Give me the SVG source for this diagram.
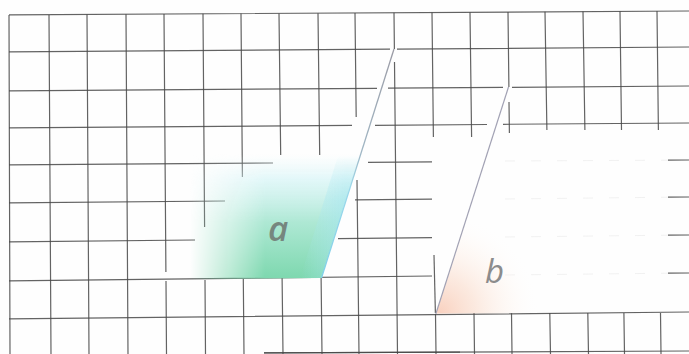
<svg xmlns="http://www.w3.org/2000/svg" width="689" height="354" viewBox="0 0 689 354">
<style>
.grid{stroke:#484848;stroke-width:1.2;fill:none;opacity:.85}
.faint{stroke:#aaa;stroke-width:1;fill:none;opacity:.15;stroke-dasharray:10 16}
.lbl{font-family:"Open Sans","Liberation Sans",sans-serif;font-style:italic}
</style>
<defs>
<linearGradient id="gA" gradientUnits="userSpaceOnUse" x1="0" y1="154" x2="0" y2="278">
<stop offset="0" stop-color="#e6f9fb" stop-opacity="0"/>
<stop offset="0.2" stop-color="#d6f4f6" stop-opacity="0.7"/>
<stop offset="0.55" stop-color="#aee8d4"/>
<stop offset="1" stop-color="#7ed8af"/>
</linearGradient>
<linearGradient id="gAc" gradientUnits="userSpaceOnUse" x1="300" y1="0" x2="345" y2="0">
<stop offset="0" stop-color="#a8e8f0" stop-opacity="0"/>
<stop offset="1" stop-color="#a6e6f0" stop-opacity="0.65"/>
</linearGradient>
<linearGradient id="gAh" gradientUnits="userSpaceOnUse" x1="190" y1="0" x2="265" y2="0">
<stop offset="0" stop-color="#000"/>
<stop offset="1" stop-color="#fff"/>
</linearGradient>
<linearGradient id="gAv" gradientUnits="userSpaceOnUse" x1="0" y1="156" x2="0" y2="200">
<stop offset="0" stop-color="#000"/>
<stop offset="1" stop-color="#fff"/>
</linearGradient>
<mask id="mA" maskUnits="userSpaceOnUse" x="0" y="0" width="689" height="354">
<rect x="140" y="140" width="240" height="150" fill="url(#gAh)"/>
</mask>
<mask id="mAv" maskUnits="userSpaceOnUse" x="0" y="0" width="689" height="354">
<rect x="140" y="140" width="240" height="150" fill="url(#gAv)"/>
</mask>
<radialGradient id="gB" gradientUnits="userSpaceOnUse" cx="440" cy="312" r="100">
<stop offset="0" stop-color="#f7bfa6" stop-opacity="0.7"/>
<stop offset="0.35" stop-color="#f9d4c0" stop-opacity="0.5"/>
<stop offset="0.7" stop-color="#fdeee4" stop-opacity="0.28"/>
<stop offset="1" stop-color="#ffffff" stop-opacity="0"/>
</radialGradient>
<linearGradient id="lA" gradientUnits="userSpaceOnUse" x1="394" y1="49" x2="322" y2="278">
<stop offset="0" stop-color="#9a9aa4"/>
<stop offset="0.45" stop-color="#a0b6c4"/>
<stop offset="0.6" stop-color="#9cd8ea"/>
<stop offset="1" stop-color="#80d0ea"/>
</linearGradient>
</defs>
<rect width="689" height="354" fill="#fefefe"/>
<g id="grid">
<path class="grid" d="M9 14.9L689 11
M9 51.9L390 49.2M397 49.1L689 47
M9 90.9L377 88.3M388 88.2L503 87.4M512 87.3L689 86
M9 127.9L352 125.4M375 125.3L487 124.5M503 124.3L689 123
M9 164.9L273 163M368 162.3L432 161.9M668 160.2L689 160
M9 202.9L225 201M355 199.9L432 199.2M668 197.2L689 197
M9 241.9L195 240M338 238.6L432 237.6M668 235.2L689 235
M9 280.9L432 276M668 273.2L689 273
M9 318.9L689 312
M264 352.9L689 351"/>
<path class="grid" d="M9 15L10 354
M49 14.9L51 354
M87 14.5L89 354
M126 14.3L128 354
M164 14L165.9 272M166 281L166.5 354
M203 13.8L204.6 227M205 280L205.5 354
M241 13.6L242.4 177M243.3 279L244 354
M279 13.4L280.7 155M282.1 278L283 354
M318 13.2L319.7 155M321.1 278L322 354
M355 12.9L356.2 117M357 180L359 354
M394 12.7L394.4 49M394.5 62L397.5 354
M432 12.5L433.4 137M435.5 314L436 354
M470 12.3L471.6 137M474 313L474.5 354
M508 12L508.9 87M509 102L509.4 133M511.5 313L512 354
M545 11.8L546.9 130M549.8 313L550.5 354
M583 11.6L584.9 130M587.8 313L588.5 354
M620 11.3L621.5 130M623.9 313L624.5 354
M657 11.1L658.4 130M660.5 313L661 354"/>
<path class="grid" d="M434 255L435.4 313" opacity="0.3"/>
<path class="grid" d="M264 352.9L460 352.2" stroke-width="1.6"/>
<path class="faint" d="M505 161L668 160.2M505 199L668 197.2M505 237L668 235.2M505 275L668 273.2"/>
</g>
<g id="node-a">
<g mask="url(#mA)">
<polygon points="185,279.2 321.5,278 360,154 185,154" fill="url(#gA)"/>
</g>
<g mask="url(#mAv)">
<polygon points="300,278 321.5,278 360,156 338,156" fill="url(#gAc)"/>
</g>
<line x1="394" y1="49" x2="321.5" y2="278" stroke="url(#lA)" stroke-width="1.3"/>
<text class="lbl" x="268" y="241" font-size="35" font-weight="600" fill="#76867e">a</text>
</g>
<g id="node-b">
<polygon points="436,313.6 689,312 689,128 495,130" fill="url(#gB)"/>
<line x1="508.5" y1="87" x2="435.8" y2="314" stroke="#a2a2b4" stroke-width="1.2"/>
<text class="lbl" x="485" y="283" font-size="33" fill="#8c8c8c">b</text>
</g>
</svg>
